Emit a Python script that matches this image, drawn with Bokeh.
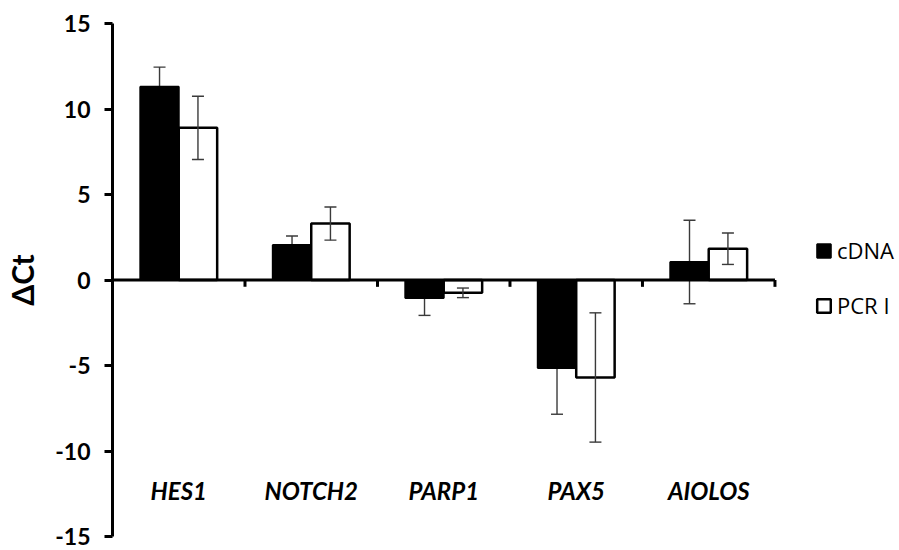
import numpy as np
from bokeh.plotting import figure
from bokeh.models import ColumnDataSource, Range1d, FixedTicker, Legend, LegendItem
from bokeh.core.properties import value
from bokeh.embed import file_html
from bokeh.resources import INLINE

# Delta Ct per gene, two templates (mean and error)
genes = ["HES1", "NOTCH2", "PARP1", "PAX5", "AIOLOS"]
cdna = [11.3, 2.05, -1.05, -5.15, 1.05]
cdna_err = [1.15, 0.52, 1.02, 2.7, 2.44]
pcr1 = [8.9, 3.3, -0.75, -5.7, 1.83]
pcr1_err = [1.85, 0.97, 0.28, 3.78, 0.92]
y_ticks = [-15, -10, -5, 0, 5, 10, 15]

FONT = "Lato"
LEGEND_FONT = "Open Sans"
BAR_W = 0.29
LABEL_Y = -12.3
ERR_COLOR = "#3a3a3a"

centers = np.arange(len(genes)) + 0.5


def series_source(offset, vals, errs):
    return ColumnDataSource(dict(
        x=centers + offset, top=vals,
        up=[v + e for v, e in zip(vals, errs)],
        lo=[v - e for v, e in zip(vals, errs)]))


def error_bars(fig, src):
    fig.segment(x0="x", y0="lo", x1="x", y1="up", source=src,
                line_color=ERR_COLOR, line_width=1.4)
    for end in ("up", "lo"):
        fig.scatter(x="x", y=end, source=src, marker="dash", size=12,
                    line_color=ERR_COLOR, line_width=1.4)


src_c = series_source(-BAR_W / 2, cdna, cdna_err)
src_p = series_source(BAR_W / 2, pcr1, pcr1_err)

# the frame runs to the right edge so the legend can sit beside the bars
p = figure(width=899, height=550, x_range=Range1d(0, 5.94), y_range=Range1d(-15, 15),
           output_backend="svg", toolbar_location=None,
           min_border_left=112, min_border_right=0, min_border_top=23, min_border_bottom=14)
p.xaxis.visible = False
p.grid.visible = False
p.outline_line_color = None
p.background_fill_color = "white"
p.border_fill_color = "white"

ya = p.yaxis[0]
ya.ticker = FixedTicker(ticks=y_ticks)
ya.major_label_overrides = {t: str(t) for t in y_ticks}
ya.axis_line_width = 3
ya.axis_line_color = "black"
ya.major_tick_line_width = 3
ya.major_tick_line_color = "black"
ya.major_tick_out = 8
ya.major_tick_in = 0
ya.minor_tick_out = 0
ya.minor_tick_in = 0
ya.major_label_text_font = FONT
ya.major_label_text_font_style = "bold"
ya.major_label_text_font_size = "23px"
ya.major_label_text_color = "black"
ya.major_label_standoff = 14
ya.axis_label = "ΔCt"
ya.axis_label_text_font = FONT
ya.axis_label_text_font_style = "bold"
ya.axis_label_text_font_size = "30px"
ya.axis_label_text_color = "black"
ya.axis_label_standoff = 12

# cDNA error bars sit under the solid bars, PCR I error bars over the open bars
error_bars(p, src_c)
r_c = p.vbar(x="x", top="top", bottom=0, width=BAR_W, source=src_c,
             fill_color="black", line_color="black", line_width=2)
r_p = p.vbar(x="x", top="top", bottom=0, width=BAR_W, source=src_p,
             fill_color="white", line_color="black", line_width=2.5)
error_bars(p, src_p)

# horizontal axis line at zero with category separator ticks
bounds = np.arange(1, len(genes) + 1)
p.segment(x0=0, y0=0, x1=len(genes), y1=0, line_color="black", line_width=3)
p.segment(x0=bounds, y0=0, x1=bounds, y1=-0.4, line_color="black", line_width=3)

p.text(x=centers, y=[LABEL_Y] * len(genes), text=genes,
       text_font=value(FONT), text_font_style="bold italic", text_font_size="24px",
       text_align="center", text_baseline="middle", text_color="black")

legend = Legend(items=[LegendItem(label="cDNA", renderers=[r_c]),
                       LegendItem(label="PCR I", renderers=[r_p])],
                location=(703, 216), orientation="vertical",
                border_line_color=None, background_fill_alpha=0,
                padding=0, margin=0, spacing=25,
                glyph_width=17, glyph_height=17, label_height=24, label_standoff=5,
                label_text_font=LEGEND_FONT, label_text_font_size="22px",
                label_text_color="black")
p.add_layout(legend)

open("out.html", "w").write(file_html(p, INLINE))
